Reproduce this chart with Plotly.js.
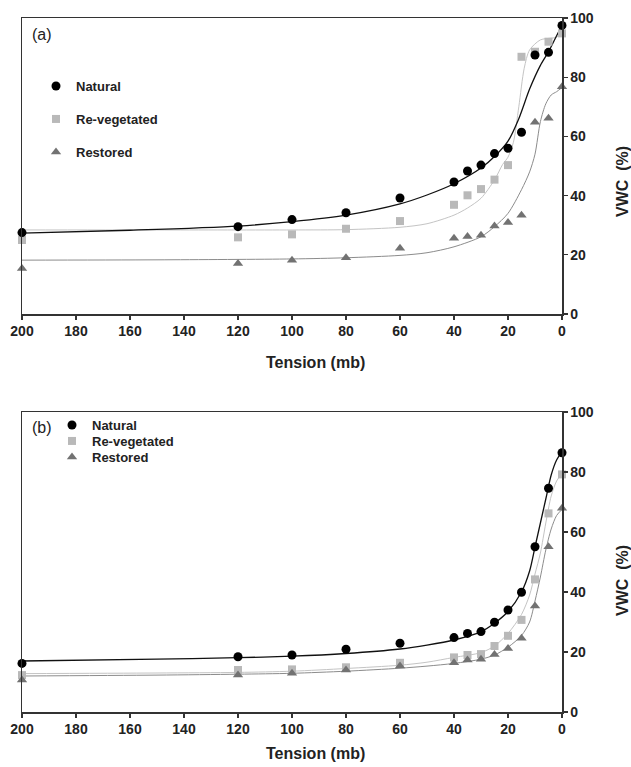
<!DOCTYPE html>
<html>
<head>
<meta charset="utf-8">
<script src="https://cdn.plot.ly/plotly-3.0.1.min.js"></script>
<style>html,body{margin:0;padding:0;background:#fff;}#chart{width:631px;height:767px;}</style>
</head>
<body>
<div id="chart"></div>
<script>
// ---- Panel (a) measured points ----
const tensionPts = [200, 120, 100, 80, 60, 40, 35, 30, 25, 20, 15, 10, 5, 0];
const aNatural   = [27.5, 29.5, 31.9, 34.2, 39.2, 44.6, 48.3, 50.3, 54.2, 56.0, 61.4, 87.5, 88.4, 97.5];
const aReveg     = [25.0, 25.9, 26.9, 28.8, 31.4, 36.9, 40.1, 42.2, 45.4, 50.3, 86.9, 88.6, 92.0, 94.8];
const aRestored  = [15.4, 17.1, 18.2, 19.0, 22.2, 25.6, 26.2, 26.6, 29.7, 30.9, 33.4, 64.8, 66.1, 76.8];

// ---- Panel (a) fitted curves ----
const aNatCurveX = [200, 160, 120, 100, 80, 60, 50, 40, 30, 25, 20, 16, 12, 8, 5, 2, 0];
const aNatCurveY = [27.3, 28.3, 29.7, 31.2, 33.4, 37.2, 40.2, 44.0, 49.3, 53.2, 58.4, 66, 76, 84, 88.6, 94, 97.5];
const aRevCurveX = [200, 150, 100, 80, 60, 50, 40, 35, 30, 25, 22, 20, 18, 16, 14, 12, 8, 4, 2, 0];
const aRevCurveY = [28.4, 28.4, 28.4, 28.5, 29.3, 30.5, 33.4, 35.8, 39.1, 45.3, 50.5, 53, 58, 70, 83, 89.2, 92.6, 93.2, 93.5, 95.2];
const aResCurveX = [200, 150, 100, 80, 60, 50, 40, 30, 25, 20, 15, 12, 10, 8, 6, 4, 2, 0];
const aResCurveY = [18.2, 18.3, 18.6, 19.0, 19.8, 20.7, 22.7, 26.1, 29.5, 34.0, 42, 48, 54, 65, 71, 74, 75.1, 76.5];

// ---- Panel (b) measured points ----
const bNatural   = [16.2, 18.4, 19.0, 20.9, 22.9, 24.8, 26.2, 26.8, 29.9, 34.0, 39.9, 55.1, 74.6, 86.4];
const bReveg     = [12.3, 14.0, 14.2, 14.9, 16.4, 18.2, 19.0, 19.3, 22.0, 25.4, 30.7, 44.2, 66.2, 79.2];
const bRestored  = [10.7, 12.3, 12.9, 14.0, 15.3, 16.4, 17.3, 17.6, 19.2, 21.2, 24.6, 35.3, 55.1, 67.9];

// ---- Panel (b) fitted curves ----
const bCurveX    = [200, 150, 120, 100, 80, 60, 50, 40, 30, 25, 20, 15, 12, 10, 8, 6, 4, 2, 0];
const bNatCurveY = [17.0, 17.6, 18.1, 18.6, 19.5, 21.0, 22.3, 24.0, 26.8, 29.6, 33.5, 40, 47, 55, 63, 71, 79, 84, 86.8];
const bRevCurveY = [12.8, 13.0, 13.2, 13.6, 14.5, 15.6, 16.6, 18.2, 19.8, 22.0, 26.2, 32.5, 39, 46, 53, 63, 72, 77, 79.5];
const bResCurveY = [12.0, 12.3, 12.6, 12.9, 13.6, 14.6, 15.3, 16.2, 17.6, 19.0, 21.6, 25.5, 30, 37, 45, 54, 61, 65.5, 67.5];

const seriesNames = ['Natural', 'Re-vegetated', 'Restored'];
const xTicks = [200, 180, 160, 140, 120, 100, 80, 60, 40, 20, 0];
const yTicks = [0, 20, 40, 60, 80, 100];

const colNat = '#000000', colRev = '#b9b9b9', colRes = '#727272';
const curveNat = '#111111', curveRev = '#c4c4c4', curveRes = '#8c8c8c';
const FONT = 'Arial, "Liberation Sans", sans-serif';

function curve(x, y, color, w, xa, ya) {
  return {x: x, y: y, xaxis: xa, yaxis: ya, mode: 'lines', type: 'scatter',
    line: {color: color, width: w, shape: 'spline', smoothing: 0.8},
    showlegend: false, hoverinfo: 'skip'};
}
function pts(y, name, sym, color, size, xa, ya, leg) {
  return {x: tensionPts, y: y, xaxis: xa, yaxis: ya, mode: 'markers', type: 'scatter', name: name,
    marker: {symbol: sym, color: color, size: size, line: {width: 0}}, cliponaxis: false,
    showlegend: true, legend: leg};
}

const traces = [
  curve(aRevCurveX, aRevCurveY, curveRev, 1, 'x', 'y'),
  curve(aResCurveX, aResCurveY, curveRes, 1, 'x', 'y'),
  curve(aNatCurveX, aNatCurveY, curveNat, 1.3, 'x', 'y'),
  pts(aReveg, seriesNames[1], 'square', colRev, 8, 'x', 'y', 'legend2'),
  pts(aRestored, seriesNames[2], 'triangle-up', colRes, 9, 'x', 'y', 'legend3'),
  pts(aNatural, seriesNames[0], 'circle', colNat, 9, 'x', 'y', 'legend'),
  curve(bCurveX, bRevCurveY, curveRev, 1, 'x2', 'y2'),
  curve(bCurveX, bResCurveY, curveRes, 1, 'x2', 'y2'),
  curve(bCurveX, bNatCurveY, curveNat, 1.3, 'x2', 'y2'),
  pts(bReveg, seriesNames[1], 'square', colRev, 8, 'x2', 'y2', 'legend5'),
  pts(bRestored, seriesNames[2], 'triangle-up', colRes, 9, 'x2', 'y2', 'legend6'),
  pts(bNatural, seriesNames[0], 'circle', colNat, 9, 'x2', 'y2', 'legend4')
];

// pixel helpers for layout (plot area: x 22..562, full height 767, no top/bottom margin)
const W = 631, H = 767, L = 22, R = 69;
const PW = W - L - R;
const fx = px => (px - L) / PW;
const fy = py => 1 - py / H;

function xaxisDef(anchor) {
  return {anchor: anchor, range: [200, 0], tickvals: xTicks, ticks: 'outside', ticklen: 4, tickwidth: 1.2,
    tickcolor: '#333', showline: true, linecolor: '#333', linewidth: 1.5, mirror: true,
    showgrid: false, zeroline: false, tickfont: {family: FONT, size: 14, color: '#222', weight: 'bold'}};
}
function yaxisDef(anchor, dom) {
  return {anchor: anchor, domain: dom, range: [0, 100], tickvals: yTicks, side: 'right', ticks: 'outside',
    ticklen: 4, tickwidth: 1.2, tickcolor: '#333', showline: true, linecolor: '#333', linewidth: 1.5,
    mirror: true, showgrid: false, zeroline: false,
    tickfont: {family: FONT, size: 14, color: '#222', weight: 'bold'}};
}
function legDef(px, py) {
  return {x: fx(px), y: fy(py), xanchor: 'left', yanchor: 'middle', bgcolor: 'rgba(0,0,0,0)',
    borderwidth: 0, font: {family: FONT, size: 13, color: '#222', weight: 'bold'}, itemwidth: 30};
}
function ann(text, px, py, font, angle) {
  return {text: text, x: fx(px), y: fy(py), xref: 'paper', yref: 'paper', showarrow: false,
    xanchor: 'center', yanchor: 'middle', textangle: angle || 0, font: font};
}

const titleFont = {family: FONT, size: 16, color: '#222', weight: 'bold'};
const panelFont = {family: FONT, size: 16, color: '#222'};
const layout = {
  width: W, height: H,
  margin: {l: L, r: R, t: 0, b: 0},
  paper_bgcolor: '#fff', plot_bgcolor: '#fff',
  xaxis: xaxisDef('y'),
  yaxis: yaxisDef('x', [fy(314), fy(18)]),
  xaxis2: xaxisDef('y2'),
  yaxis2: yaxisDef('x2', [fy(712), fy(412)]),
  legend: legDef(36, 86),
  legend2: legDef(36, 119),
  legend3: legDef(36, 152),
  legend4: legDef(52, 425),
  legend5: legDef(52, 441),
  legend6: legDef(52, 457),
  annotations: [
    ann('(a)', 42, 34, panelFont),
    ann('(b)', 42, 427, panelFont),
    ann('Tension (mb)', 315, 362, titleFont),
    ann('Tension (mb)', 315, 753, titleFont),
    ann('VWC\u00a0\u00a0(%)', 622, 182, titleFont, -90),
    ann('VWC\u00a0\u00a0(%)', 622, 581, titleFont, -90)
  ]
};

Plotly.newPlot('chart', traces, layout, {displayModeBar: false, staticPlot: true});
</script>
</body>
</html>
